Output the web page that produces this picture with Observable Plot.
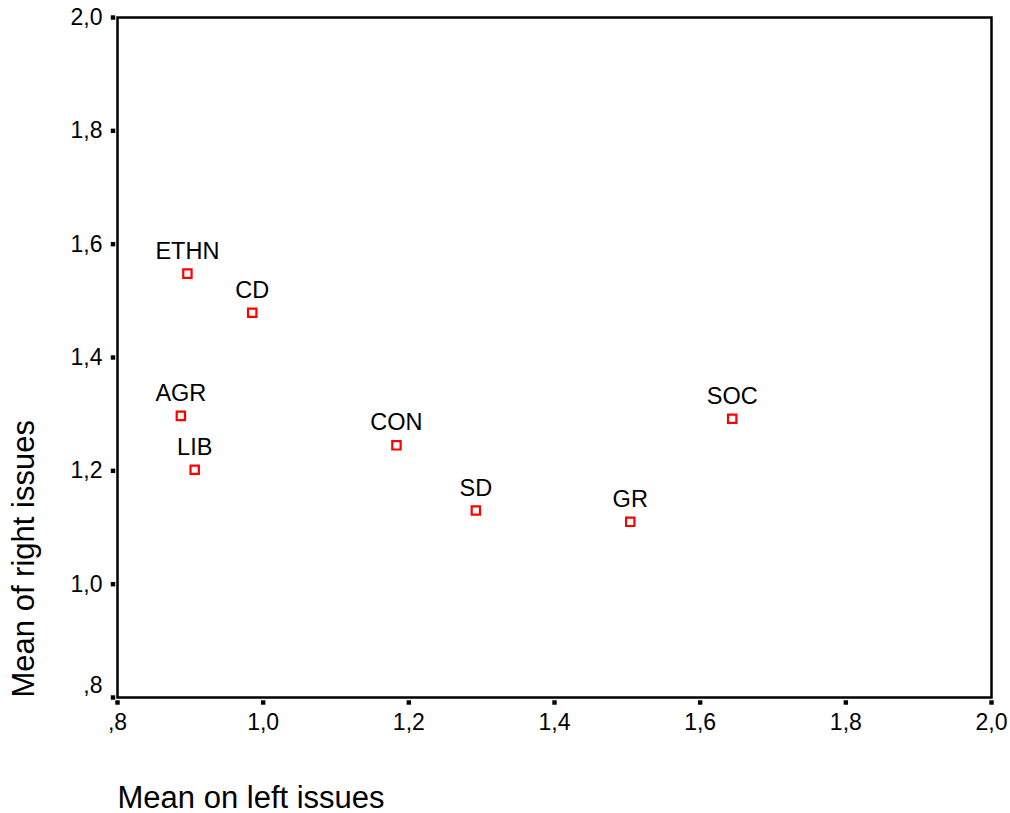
<!DOCTYPE html>
<html>
<head>
<meta charset="utf-8">
<script src="https://cdn.jsdelivr.net/npm/d3@7"></script>
<script src="https://cdn.jsdelivr.net/npm/@observablehq/plot@0.6"></script>
<style>
  html, body { margin: 0; padding: 0; background: #fff; }
  svg { display: block; }
</style>
</head>
<body>
<div id="chart"></div>
<script>
// Party families
const parties = ["ETHN", "CD", "AGR", "LIB", "CON", "SD", "GR", "SOC"];
// Mean on left issues (x)
const leftMeans = [0.896, 0.985, 0.887, 0.906, 1.183, 1.292, 1.504, 1.644];
// Mean of right issues (y)
const rightMeans = [1.548, 1.479, 1.297, 1.202, 1.245, 1.130, 1.110, 1.292];
// Axis ticks
const xTicks = [0.8, 1.0, 1.2, 1.4, 1.6, 1.8, 2.0];
const yTicks = [0.8, 1.0, 1.2, 1.4, 1.6, 1.8, 2.0];
const xTitle = "Mean on left issues";
const yTitle = "Mean of right issues";

const data = parties.map((p, i) => ({party: p, x: leftMeans[i], y: rightMeans[i]}));
const fmt = d => d3.format(".1f")(d).replace(".", ",").replace(/^0/, "");
const font = "Liberation Sans, Arial, sans-serif";

const chart = Plot.plot({
  width: 1010,
  height: 813,
  marginLeft: 117,
  marginRight: 19,
  marginTop: 17,
  marginBottom: 116,
  style: {fontFamily: font, background: "#fff", color: "#000"},
  x: {domain: [0.8, 2.0], axis: null},
  y: {domain: [0.8, 2.0], axis: null},
  marks: [
    Plot.frame({stroke: "#000", strokeWidth: 2.5}),
    // tick squares
    Plot.dot(xTicks, {x: d => d, frameAnchor: "bottom", dy: 5, symbol: "square", fill: "#000", r: 2.5}),
    Plot.dot(yTicks, {y: d => d, frameAnchor: "left", dx: -4.5, symbol: "square", fill: "#000", r: 2.5}),
    // x tick labels
    Plot.text(xTicks, {x: d => d, text: fmt, frameAnchor: "bottom", dy: 16, lineAnchor: "top", fontSize: 23, fill: "#000"}),
    // y tick labels
    Plot.text(yTicks.filter(d => d > 0.81), {y: d => d, text: fmt, frameAnchor: "left", dx: -15, textAnchor: "end", fontSize: 23, fill: "#000"}),
    Plot.text(yTicks.filter(d => d < 0.81), {y: d => d, text: fmt, frameAnchor: "left", dx: -15, dy: -12, textAnchor: "end", fontSize: 23, fill: "#000"}),
    // axis titles
    Plot.text([xTitle], {frameAnchor: "bottom-left", textAnchor: "start", lineAnchor: "bottom", dy: 110, fontSize: 31, fill: "#000"}),
    Plot.text([yTitle], {frameAnchor: "bottom-left", textAnchor: "start", lineAnchor: "bottom", rotate: -90, dx: -84, fontSize: 31, fill: "#000"}),
    // points
    Plot.dot(data, {x: "x", y: "y", symbol: "square", r: 4.7, stroke: "#ff0000", strokeWidth: 2.2, fill: "#fff"}),
    Plot.text(data, {x: "x", y: "y", text: "party", dy: -15, lineAnchor: "bottom", fontSize: 23.5, fill: "#000"})
  ]
});
document.getElementById("chart").appendChild(chart);
</script>
</body>
</html>
